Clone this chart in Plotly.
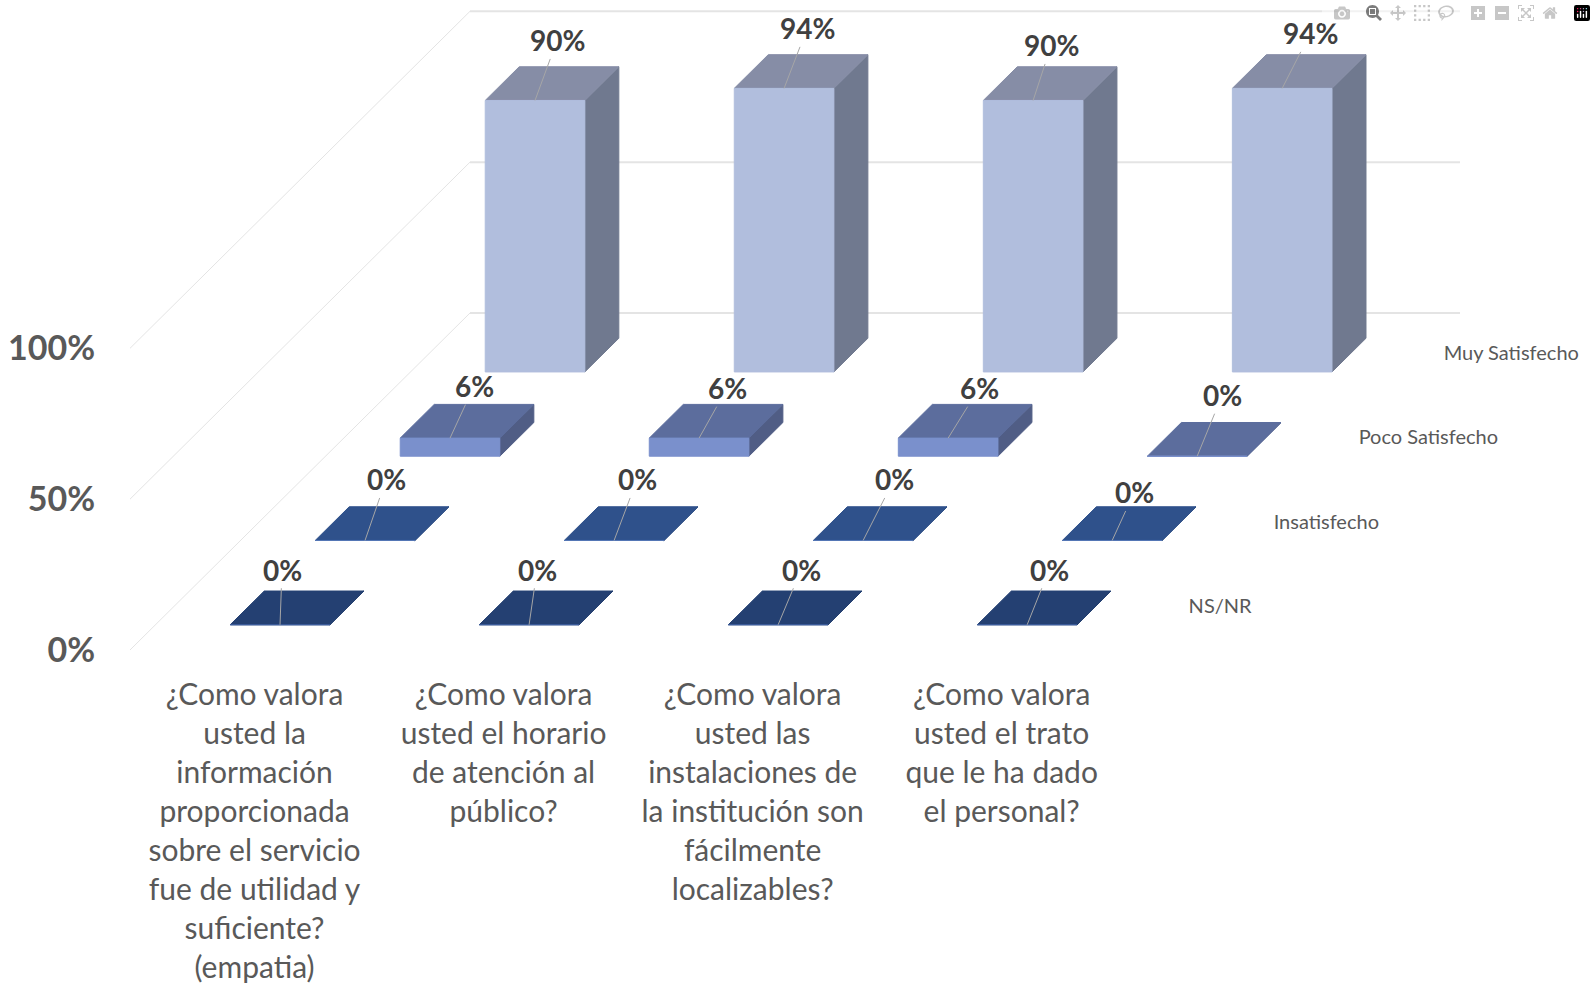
import plotly.graph_objects as go

# ---------- data ----------
categories = [
    "¿Como valora<br>usted la<br>información<br>proporcionada<br>sobre el servicio<br>fue de utilidad y<br>suficiente?<br>(empatia)",
    "¿Como valora<br>usted el horario<br>de atención al<br>público?",
    "¿Como valora<br>usted las<br>instalaciones de<br>la institución son<br>fácilmente<br>localizables?",
    "¿Como valora<br>usted el trato<br>que le ha dado<br>el personal?",
]
series_names = ["NS/NR", "Insatisfecho", "Poco Satisfecho", "Muy Satisfecho"]
ns_nr = [0, 0, 0, 0]
insatisfecho = [0, 0, 0, 0]
poco_satisfecho = [6, 6, 6, 0]
muy_satisfecho = [90, 94, 90, 94]
y_ticks = [0, 50, 100]
y_tick_labels = ["0%", "50%", "100%"]

# ---------- layout / style ----------
W, H = 1596, 984
PX_X = 249.05          # pixels per category
PX_Y = 3.033           # pixels per percent
LEFT = 130
FLOOR = 653.5
DX = 0.3413            # oblique shift per series, in category units
DY = 27.93             # oblique shift per series, in percent units
BAR = 0.4              # bar width / depth as share of its slot
FONT = "Lato"
series_values = [ns_nr, insatisfecho, poco_satisfecho, muy_satisfecho]
front_colors = ["#3B5C9C", "#5577B5", "#7A90CC", "#B1BEDD"]
top_colors = ["#244072", "#2F518B", "#5C6D9D", "#868DA6"]
side_colors = ["#1E3760", "#284675", "#505D85", "#70798F"]
# data label offsets from the bar's front top edge, in pixels (manual placement in the original)
label_dx = [[2, 8, 23, 22], [21, 23, 31, 22], [24, 28, 31, 25], [22, 23, 18, 28]]
label_dy = [[-55, -55, -55, -55], [-61, -61, -61, -48], [-52, -50, -50, -61], [-60, -60, -55, -55]]


def proj(c, s, v):
    return c + s * DX, v + s * DY


fig = go.Figure()


def poly(points, color, line=None, width=1):
    xs = [p[0] for p in points] + [points[0][0]]
    ys = [p[1] for p in points] + [points[0][1]]
    fig.add_trace(go.Scatter(
        x=xs, y=ys, mode="lines", fill="toself", fillcolor=color,
        line=dict(color=line or color, width=width),
        hoverinfo="skip", showlegend=False))


def seg(a, b, color="#E4E4E4", width=1.0):
    fig.add_trace(go.Scatter(
        x=[a[0], b[0]], y=[a[1], b[1]], mode="lines",
        line=dict(color=color, width=width),
        hoverinfo="skip", showlegend=False))


n_cat = len(categories)
n_ser = len(series_names)

# walls
for t in y_ticks:
    seg(proj(0, 0, t), proj(0, n_ser, t))
    seg(proj(0, n_ser, t), proj(n_cat - 0.025, n_ser, t), width=2)

# boxes, back series first
for s in reversed(range(n_ser)):
    s0 = s + (1 - BAR) / 2
    s1 = s0 + BAR
    for c, v in enumerate(series_values[s]):
        c0 = c + (1 - BAR) / 2
        c1 = c0 + BAR
        poly([proj(c1, s0, 0), proj(c1, s1, 0), proj(c1, s1, v), proj(c1, s0, v)], side_colors[s])
        poly([proj(c0, s0, v), proj(c1, s0, v), proj(c1, s1, v), proj(c0, s1, v)], top_colors[s])
        poly([proj(c0, s0, 0), proj(c1, s0, 0), proj(c1, s0, v), proj(c0, s0, v)], front_colors[s])
        bx, by = proj(c + 0.5, s0, v)
        fig.add_annotation(
            x=bx, y=by, xref="x", yref="y",
            ax=label_dx[s][c], ay=label_dy[s][c], axref="pixel", ayref="pixel",
            text=f"<b>{v}%</b>", showarrow=True, arrowhead=0, arrowwidth=1,
            arrowcolor="#A6A6A6", standoff=0,
            font=dict(family=FONT, size=28, color="#404040"))

# series axis labels
label_x = [proj(n_cat + 0.08, s + 0.5, 0)[0] for s in range(n_ser)]
label_y = [proj(n_cat + 0.08, s + 0.5, 0)[1] for s in range(n_ser)]
fig.add_trace(go.Scatter(
    x=label_x, y=label_y, mode="text", text=series_names, textposition="middle right",
    textfont=dict(family=FONT, size=20, color="#595959"),
    hoverinfo="skip", showlegend=False))

fig.update_layout(
    width=W, height=H,
    margin=dict(l=LEFT, r=0, t=0, b=H - FLOOR, pad=0),
    paper_bgcolor="white", plot_bgcolor="white",
    showlegend=False,
    xaxis=dict(
        range=[0, (W - LEFT) / PX_X], tickvals=[i + 0.5 for i in range(n_cat)], ticktext=categories,
        tickangle=0, showgrid=False, zeroline=False, showline=False, ticks="",
        ticklabelstandoff=24,
        tickfont=dict(family=FONT, size=30, color="#595959")),
    yaxis=dict(
        range=[0, FLOOR / PX_Y], tickvals=y_ticks, ticktext=[f"<b>{t}</b>" for t in y_tick_labels],
        showgrid=False, zeroline=False, showline=False, ticks="",
        ticklabelstandoff=34,
        tickfont=dict(family=FONT, size=34, color="#595959")),
)

fig.write_html("out.html", post_script="document.body.style.margin='0';")
